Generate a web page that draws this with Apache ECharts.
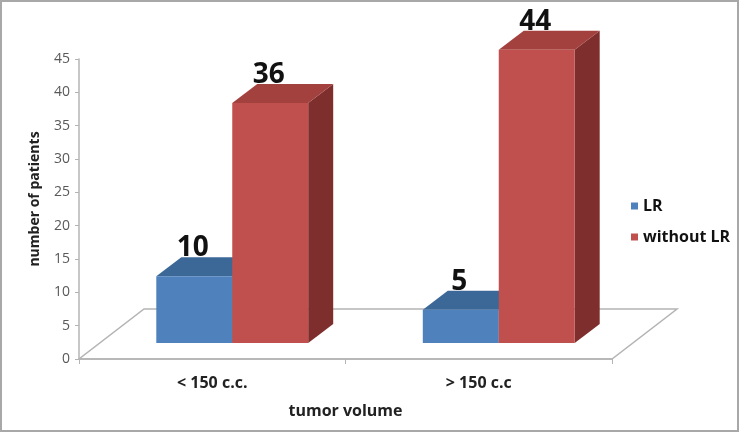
<!DOCTYPE html>
<html><head><meta charset="utf-8">
<script src="https://cdn.jsdelivr.net/npm/echarts@6/dist/echarts.min.js"></script>
<style>html,body{margin:0;padding:0;background:#fff}#c{width:740px;height:433px}</style>
</head><body><div id="c"></div>
<script>
// ---- data ----
const categories = ['< 150 c.c.', '> 150 c.c'];
const seriesNames = ['LR', 'without LR'];
const lrValues = [10, 5];
const withoutLrValues = [36, 44];
const yMin = 0, yMax = 45, yStep = 5;
const xTitle = 'tumor volume';
const yTitle = 'number of patients';

// ---- style ----
const FONT = '"Open Sans", "Liberation Sans", sans-serif';
const palette = [
  { front: '#4F81BD', top: '#3C6898', side: '#2F5481' },
  { front: '#C0504D', top: '#A3413F', side: '#7E2E2C' }
];
const FLOOR_DX = 65, FLOOR_DY = 50;   // floor depth
const BAR_SHIFT_X = 20, BAR_SHIFT_Y = 16; // bar front plane offset in floor
const BAR_DX = 25, BAR_DY = 19;       // bar depth
const BAR_FRAC = 0.285;

function barRender(k) {
  const col = palette[k];
  return function (params, api) {
    const i = api.value(0), v = api.value(1);
    const band = api.size([1, 0])[0];
    const w = band * BAR_FRAC;
    const base = api.coord([i, 0]);
    const top = api.coord([i, v]);
    const left = base[0] + BAR_SHIFT_X + (k - 1) * w;
    const yB = base[1] - BAR_SHIFT_Y;
    const yT = top[1] - BAR_SHIFT_Y;
    const r = left + w;
    return {
      type: 'group',
      children: [
        { type: 'polygon', shape: { points: [[r, yT], [r + BAR_DX, yT - BAR_DY], [r + BAR_DX, yB - BAR_DY], [r, yB]] }, style: { fill: col.side } },
        { type: 'polygon', shape: { points: [[left, yT], [r, yT], [r + BAR_DX, yT - BAR_DY], [left + BAR_DX, yT - BAR_DY]] }, style: { fill: col.top } },
        { type: 'rect', shape: { x: left, y: yT, width: w, height: yB - yT }, style: { fill: col.front } },
        { type: 'text', x: left + w / 2 - 1.5, y: yT - BAR_DY + 5, style: { text: String(v), fill: '#111', font: 'bold 28px ' + FONT, align: 'center', verticalAlign: 'bottom' } }
      ]
    };
  };
}

function floorRender(params, api) {
  const cs = params.coordSys;
  const x0 = cs.x, x1 = cs.x + cs.width, y0 = cs.y + cs.height;
  return {
    type: 'polygon',
    shape: { points: [[x0, y0], [x1, y0], [x1 + FLOOR_DX, y0 - FLOOR_DY], [x0 + FLOOR_DX, y0 - FLOOR_DY]] },
    style: { fill: 'none', stroke: '#B4B4B4', lineWidth: 1.5 }
  };
}

const chart = echarts.init(document.getElementById('c'), null, { renderer: 'canvas' });
chart.setOption({
  animation: false,
  backgroundColor: '#fff',
  graphic: [{ type: 'rect', shape: { x: 1, y: 1, width: 737, height: 430 }, style: { fill: 'none', stroke: '#A8A8A8', lineWidth: 2 }, z: 100 }],
  grid: { left: 79, right: 128, top: 59, bottom: 74 },
  legend: {
    data: seriesNames, orient: 'vertical', left: 626, top: 193,
    itemWidth: 7, itemHeight: 7, itemGap: 15, icon: 'rect',
    textStyle: { fontFamily: FONT, fontWeight: 'bold', fontSize: 16, color: '#111', lineHeight: 16 }
  },
  xAxis: {
    type: 'category', data: categories, boundaryGap: true,
    name: xTitle, nameLocation: 'middle', nameGap: 44,
    nameTextStyle: { fontFamily: FONT, fontWeight: 'bold', fontSize: 16, color: '#222' },
    axisLine: { lineStyle: { color: '#B4B4B4', width: 1.5 } },
    axisTick: { show: true, length: 5, lineStyle: { color: '#B4B4B4' } },
    axisLabel: { margin: 16, fontFamily: FONT, fontWeight: 'bold', fontSize: 16, color: '#222' }
  },
  yAxis: {
    type: 'value', min: yMin, max: yMax, interval: yStep,
    name: yTitle, nameLocation: 'middle', nameGap: 37,
    nameTextStyle: { fontFamily: FONT, fontWeight: 'bold', fontSize: 14, color: '#222', padding: [0, 0, 0, 20] },
    axisLine: { show: true, lineStyle: { color: '#B4B4B4', width: 1.5 } },
    axisTick: { show: true, length: 4, lineStyle: { color: '#B4B4B4' } },
    splitLine: { show: false },
    axisLabel: { margin: 9, fontFamily: FONT, fontSize: 14, color: '#595959' }
  },
  series: [
    { type: 'custom', name: 'floor', renderItem: floorRender, data: [[0, 0]], silent: true, z: 1 },
    { type: 'custom', name: seriesNames[0], renderItem: barRender(0), itemStyle: { color: palette[0].front },
      data: lrValues.map((v, i) => [i, v]), z: 2 },
    { type: 'custom', name: seriesNames[1], renderItem: barRender(1), itemStyle: { color: palette[1].front },
      data: withoutLrValues.map((v, i) => [i, v]), z: 3 }
  ]
});
</script></body></html>
